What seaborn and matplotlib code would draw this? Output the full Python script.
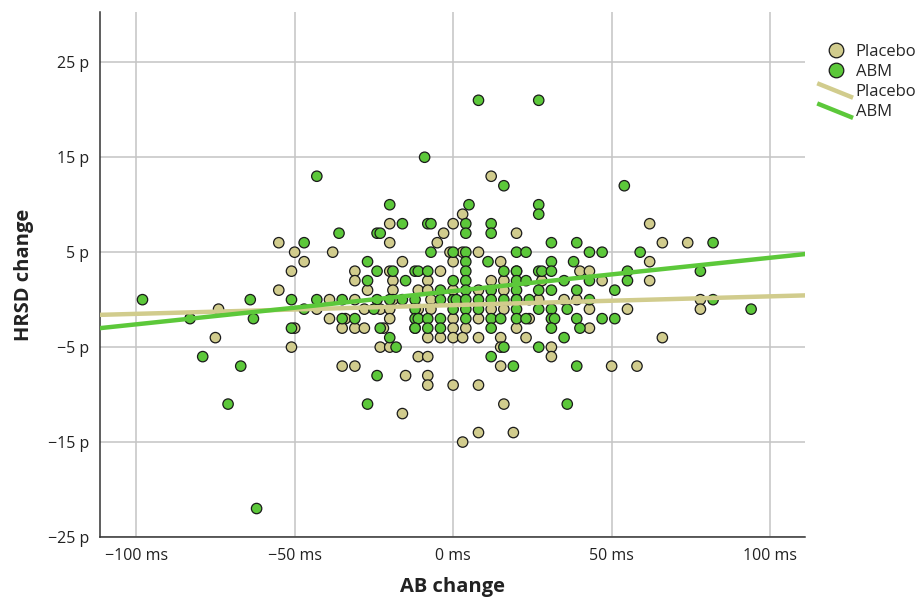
import matplotlib
matplotlib.use("Agg")
import matplotlib.pyplot as plt
from matplotlib.lines import Line2D
from matplotlib.legend_handler import HandlerBase
import seaborn as sns
import pandas as pd

# ---------------- data ----------------
placebo_ab = [12, 3, -20, 0, 62, -3, 20, -55, -20, -5, 66, 74,
              -50, -38, -1, 3, 8, -47, -16, 0, 15, 62,
              -51, -31, -20, -4, 20, 40, 43,
              -31, -19, -8, 12, 16, 28, 47, 62,
              -55, -27, -19, -11, -8, 0, 8, 16,
              -39, -31, -19, -7, 20, 27, 35, 39, 78,
              -74, -43, -28, -23, -20, -11, -7, 12, 16, 43, 55, 78,
              -39, -34, -20, 0, 8, 24,
              -50, -35, -31, -28, -22, -12, 0, 4, 20, 43,
              -75, -8, -4, 0, 3, 8, 15, 23, 66,
              -51, -23, -20, 15, 31,
              -11, -8, 31,
              -35, -31, 15, 50, 58,
              -15, -8,
              -8, 0, 8,
              16, -16, 8, 19, 3]
placebo_hrsd = [13, 9, 8, 8, 8, 7, 7, 6, 6, 6, 6, 6,
                5, 5, 5, 5, 5, 4, 4, 4, 4, 4,
                3, 3, 3, 3, 3, 3, 3,
                2, 2, 2, 2, 2, 2, 2, 2,
                1, 1, 1, 1, 1, 1, 1, 1,
                0, 0, 0, 0, 0, 0, 0, 0, 0,
                -1, -1, -1, -1, -1, -1, -1, -1, -1, -1, -1, -1,
                -2, -2, -2, -2, -2, -2,
                -3, -3, -3, -3, -3, -3, -3, -3, -3, -3,
                -4, -4, -4, -4, -4, -4, -4, -4, -4,
                -5, -5, -5, -5, -5,
                -6, -6, -6,
                -7, -7, -7, -7, -7,
                -8, -8,
                -9, -9, -9,
                -11, -12, -14, -14, -15]

abm_ab = [8, 27, -9, -43, 16, 54, -20, 5, 27, 27,
          -16, -8, -7, 4, 12, -36, -24, -23, 4, 12,
          -47, 31, 39, 82,
          -7, 0, 4, 20, 23, 43, 47, 59,
          -27, 4, 11, 31, 38,
          -24, -19, -12, -11, -8, 4, 16, 20, 27, 28, 31, 55, 78,
          -27, -15, 0, 4, 20, 23, 35, 43, 55,
          -4, 4, 12, 20, 27, 31, 39, 51,
          -98, -64, -51, -43, -35, -24, -20, -16, -12, -4, 0, 1, 4, 8, 12, 16, 20, 24, 43, 82,
          -47, -25, -12, 0, 4, 8, 20, 27, 31, 36, 94,
          -83, -63, -35, -31, -12, -11, -8, -4, 4, 12, 15, 20, 23, 31, 32, 39, 47, 51,
          -51, -23, -12, -8, -4, 12, 31, 40,
          -20, 35, -18, 16, 27, -79, 12, -67, 19, 39, -24,
          -71, -27, 36, -62]
abm_hrsd = [21, 21, 15, 13, 12, 12, 10, 10, 10, 9,
            8, 8, 8, 8, 8, 7, 7, 7, 7, 7,
            6, 6, 6, 6,
            5, 5, 5, 5, 5, 5, 5, 5,
            4, 4, 4, 4, 4,
            3, 3, 3, 3, 3, 3, 3, 3, 3, 3, 3, 3, 3,
            2, 2, 2, 2, 2, 2, 2, 2, 2,
            1, 1, 1, 1, 1, 1, 1, 1,
            0, 0, 0, 0, 0, 0, 0, 0, 0, 0, 0, 0, 0, 0, 0, 0, 0, 0, 0, 0,
            -1, -1, -1, -1, -1, -1, -1, -1, -1, -1, -1,
            -2, -2, -2, -2, -2, -2, -2, -2, -2, -2, -2, -2, -2, -2, -2, -2, -2, -2,
            -3, -3, -3, -3, -3, -3, -3, -3,
            -4, -4, -5, -5, -5, -6, -6, -7, -7, -7, -8,
            -11, -11, -11, -22]

# fit lines (endpoints at the axis edges)
fit_x = [-111.4, 111.0]
placebo_fit = [-1.6, 0.45]
abm_fit = [-3.0, 4.8]

groups = ["Placebo", "ABM"]
x_ticks = [-100, -50, 0, 50, 100]
y_ticks = [-25, -15, -5, 5, 15, 25]

placebo_col = "#d1cc8d"
abm_col = "#5cc83a"
palette = {"Placebo": placebo_col, "ABM": abm_col}

pts = pd.concat([
    pd.DataFrame({"AB": placebo_ab, "HRSD": placebo_hrsd, "group": "Placebo"}),
    pd.DataFrame({"AB": abm_ab, "HRSD": abm_hrsd, "group": "ABM"}),
], ignore_index=True)
lines = pd.concat([
    pd.DataFrame({"AB": fit_x, "HRSD": placebo_fit, "group": "Placebo"}),
    pd.DataFrame({"AB": fit_x, "HRSD": abm_fit, "group": "ABM"}),
], ignore_index=True)

# ---------------- figure ----------------
sns.set_style("white")
plt.rcParams["font.family"] = ["Open Sans", "DejaVu Sans"]

fig = plt.figure(figsize=(9.21, 6.01), dpi=100)
ax = fig.add_axes([100 / 921, 1 - 537 / 601, 705 / 921, 525 / 601])

sns.scatterplot(data=pts, x="AB", y="HRSD", hue="group", palette=palette,
                hue_order=groups, s=56, edgecolor="#1a1a1a", linewidth=0.9,
                legend=False, ax=ax, zorder=3)
sns.lineplot(data=lines, x="AB", y="HRSD", hue="group", palette=palette,
             hue_order=groups, linewidth=3.2, legend=False, ax=ax, zorder=4,
             estimator=None, sort=False)

ax.set_xlim(-111.4, 111.0)
ax.set_ylim(-25, 30.3)
ax.set_xticks(x_ticks)
ax.set_yticks(y_ticks)
ax.set_xticklabels([f"{v}".replace("-", "\u2212") + " ms" for v in x_ticks])
ax.set_yticklabels([f"{v}".replace("-", "\u2212") + " p" for v in y_ticks])
ax.grid(True, color="#c4c4c4", linewidth=1.1)
ax.set_axisbelow(True)
for side in ["top", "right"]:
    ax.spines[side].set_visible(False)
for side in ["left", "bottom"]:
    ax.spines[side].set_color("#333333")
    ax.spines[side].set_linewidth(1.1)
ax.tick_params(axis="both", length=0, labelsize=11.5, colors="#222222", pad=8)

ax.set_xlabel("AB change", fontsize=14.5, fontweight="bold", labelpad=9, color="#222222")
ax.set_ylabel("HRSD change", fontsize=14.5, fontweight="bold", labelpad=10, color="#222222")


class DiagLineHandler(HandlerBase):
    def create_artists(self, legend, orig_handle, xdescent, ydescent, width,
                       height, fontsize, trans):
        ln = Line2D([-xdescent - 2, -xdescent + width + 1],
                    [height + 1, -ydescent - 1],
                    color=orig_handle.get_color(), linewidth=3.2,
                    solid_capstyle="butt", transform=trans)
        return [ln]


handles = [
    Line2D([], [], marker="o", linestyle="", markersize=10.5,
           markerfacecolor=placebo_col, markeredgecolor="#1a1a1a", markeredgewidth=0.9),
    Line2D([], [], marker="o", linestyle="", markersize=10.5,
           markerfacecolor=abm_col, markeredgecolor="#1a1a1a", markeredgewidth=0.9),
    Line2D([], [], color=placebo_col, linewidth=3.2),
    Line2D([], [], color=abm_col, linewidth=3.2),
]
labels = ["Placebo", "ABM", "Placebo", "ABM"]
hmap = {handles[2]: DiagLineHandler(), handles[3]: DiagLineHandler()}
fig.legend(handles, labels, handler_map=hmap, loc="upper left",
           bbox_to_anchor=(820 / 921, 1 - 44 / 601), frameon=False,
           fontsize=12, handlelength=1.9, handletextpad=0.25,
           labelspacing=0.25, borderpad=0, borderaxespad=0)

fig.savefig("out.png", dpi=100)
